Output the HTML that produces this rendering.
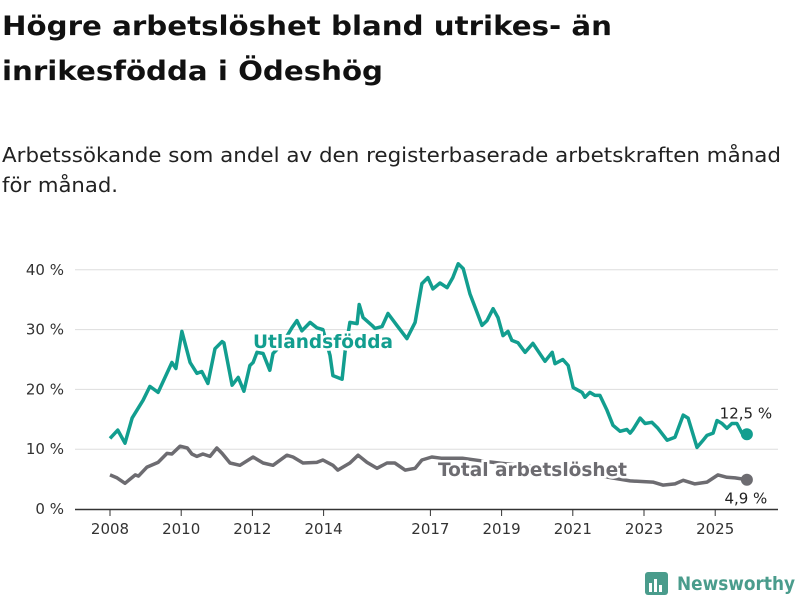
<!DOCTYPE html>
<html><head><meta charset="utf-8"><style>
body{margin:0;background:#fff;font-family:"DejaVu Sans","Liberation Sans",sans-serif;}
svg text{font-family:"DejaVu Sans","Liberation Sans",sans-serif;}
</style></head><body>
<svg width="800" height="600" viewBox="0 0 800 600">
<text x="2" y="35" font-size="27" font-weight="bold" fill="#111" textLength="610" lengthAdjust="spacingAndGlyphs">Högre arbetslöshet bland utrikes- än</text>
<text x="2" y="80" font-size="27" font-weight="bold" fill="#111" textLength="381" lengthAdjust="spacingAndGlyphs">inrikesfödda i Ödeshög</text>
<text x="2" y="162" font-size="20" fill="#222" textLength="779" lengthAdjust="spacingAndGlyphs">Arbetssökande som andel av den registerbaserade arbetskraften månad</text>
<text x="2" y="192" font-size="20" fill="#222" textLength="116" lengthAdjust="spacingAndGlyphs">för månad.</text>
<g id="grid"></g><g id="lines"></g><g id="xaxis"></g>
<g>
<rect x="645" y="572" width="23" height="23" rx="3" fill="#4a9c8c"/>
<rect x="649" y="583" width="3" height="9" fill="#fff"/><rect x="654" y="579" width="3" height="13" fill="#fff"/><rect x="659" y="585" width="3" height="7" fill="#fff"/>
<text x="677" y="590" font-size="19" font-weight="bold" fill="#4a9c8c" textLength="118" lengthAdjust="spacingAndGlyphs">Newsworthy</text>
</g>
</svg>
<script>
const yTicks=[0,10,20,30,40];
const xTickYears=[2008,2010,2012,2014,2017,2019,2021,2023,2025];
const utlT=[2008.0,2008.22,2008.42,2008.62,2008.93,2009.12,2009.35,2009.74,2009.85,2010.02,2010.25,2010.44,2010.58,2010.75,2010.95,2011.15,2011.2,2011.43,2011.6,2011.76,2011.93,2012.02,2012.13,2012.3,2012.49,2012.58,2012.83,2013.11,2013.25,2013.39,2013.62,2013.81,2013.98,2014.18,2014.26,2014.52,2014.6,2014.74,2014.94,2015.0,2015.11,2015.36,2015.44,2015.64,2015.81,2016.06,2016.34,2016.57,2016.76,2016.93,2017.07,2017.27,2017.47,2017.63,2017.78,2017.92,2018.11,2018.45,2018.59,2018.76,2018.9,2019.04,2019.18,2019.29,2019.46,2019.66,2019.88,2020.22,2020.42,2020.5,2020.72,2020.87,2021.01,2021.26,2021.34,2021.48,2021.62,2021.76,2021.96,2022.13,2022.33,2022.52,2022.61,2022.69,2022.89,2023.03,2023.22,2023.39,2023.65,2023.87,2024.1,2024.24,2024.49,2024.66,2024.77,2024.94,2025.05,2025.19,2025.33,2025.47,2025.61,2025.75,2025.89];
const utlV=[11.8,13.2,11,15.2,18.2,20.5,19.5,24.5,23.5,29.7,24.5,22.7,23,21,26.8,28,27.8,20.7,22,19.7,24,24.5,26.2,26,23.2,26,27.5,30.3,31.5,29.8,31.2,30.3,30,25.7,22.3,21.7,26.2,31.2,31,34.2,32,30.7,30.2,30.5,32.7,30.7,28.5,31.2,37.7,38.7,36.8,37.8,37,38.7,41,40.2,36,30.7,31.5,33.5,32,29,29.7,28.2,27.8,26.2,27.7,24.7,26.2,24.3,25,24,20.3,19.5,18.7,19.5,19,19,16.5,14,13,13.3,12.7,13.3,15.2,14.3,14.5,13.5,11.5,12,15.7,15.2,10.3,11.5,12.3,12.7,14.8,14.3,13.5,14.3,14.3,12.7,12.5];
const totT=[2008.0,2008.2,2008.42,2008.71,2008.8,2009.04,2009.35,2009.6,2009.74,2009.97,2010.17,2010.3,2010.44,2010.61,2010.81,2011.0,2011.15,2011.37,2011.65,2012.02,2012.3,2012.58,2012.97,2013.14,2013.42,2013.81,2013.98,2014.26,2014.4,2014.74,2014.97,2015.22,2015.5,2015.78,2016.0,2016.29,2016.57,2016.76,2017.04,2017.3,2017.9,2018.5,2019.2,2020.0,2021.0,2022.0,2022.61,2023.25,2023.53,2023.87,2024.1,2024.43,2024.77,2025.08,2025.33,2025.56,2025.89];
const totV=[5.7,5.2,4.3,5.7,5.5,7,7.8,9.3,9.2,10.5,10.2,9.2,8.8,9.2,8.8,10.2,9.3,7.7,7.3,8.7,7.7,7.3,9,8.7,7.7,7.8,8.2,7.3,6.5,7.7,9,7.8,6.8,7.7,7.7,6.5,6.8,8.2,8.7,8.5,8.5,8,7.5,7,6,5.3,4.7,4.5,4,4.2,4.8,4.2,4.5,5.7,5.3,5.2,4.9];
const NS='http://www.w3.org/2000/svg';
const X=t=>110+(t-2008)*35.6;
const Y=v=>509-v*5.98;
function mk(tag,attrs,parent){const e=document.createElementNS(NS,tag);for(const k in attrs)e.setAttribute(k,attrs[k]);document.getElementById(parent).appendChild(e);return e;}
yTicks.forEach(v=>{
 if(v>0){const l=mk('line',{x1:75,x2:778,y1:Y(v),y2:Y(v),stroke:'#ddd','stroke-width':1},'grid');
 
 }
 const t=mk('text',{x:64,y:Y(v)+5,'font-size':15,'text-anchor':'end',fill:'#333'},'grid');t.textContent=v+' %';
 
 
});
const ax=mk('line',{x1:75,x2:778,y1:509.5,y2:509.5,stroke:'#333','stroke-width':1.5},'xaxis');


xTickYears.forEach(y=>{
 mk('line',{x1:X(y),x2:X(y),y1:509,y2:516,stroke:'#333','stroke-width':1},'xaxis');
 const t=mk('text',{x:X(y),y:534,'font-size':15,'text-anchor':'middle',fill:'#333'},'xaxis');t.textContent=y;
 
 
});
function series(T,V,color,name){
 const d=T.map((t,i)=>(i?'L':'M')+X(t).toFixed(1)+','+Y(V[i]).toFixed(1)).join('');
 const p=mk('path',{d:d,fill:'none',stroke:color,'stroke-width':3.5,'stroke-linejoin':'round'},'lines');
 
 
 const n=T.length-1;
 const c=mk('circle',{cx:X(T[n]),cy:Y(V[n]),r:6,fill:color},'lines');
 
 
 return [X(T[n]),Y(V[n]),V[n]];
}
const eT=series(totT,totV,'#6d6c71','total');
const eU=series(utlT,utlV,'#129e8f','utlandsfodda');
let l1=mk('text',{x:253,y:348,'font-size':19,'font-weight':'bold',fill:'#129e8f',stroke:'#fff','stroke-width':5,'paint-order':'stroke',textLength:140,lengthAdjust:'spacingAndGlyphs'},'lines');l1.textContent='Utlandsfödda';


let l2=mk('text',{x:438,y:476,'font-size':19,'font-weight':'bold',fill:'#6d6c71',stroke:'#fff','stroke-width':5,'paint-order':'stroke',textLength:189,lengthAdjust:'spacingAndGlyphs'},'lines');l2.textContent='Total arbetslöshet';


let v1=mk('text',{x:eU[0]-1,y:eU[1]-16,'font-size':15,'text-anchor':'middle',fill:'#222'},'lines');v1.textContent=String(eU[2]).replace('.',',')+' %';


let v2=mk('text',{x:eT[0]-1,y:eT[1]+24,'font-size':15,'text-anchor':'middle',fill:'#222'},'lines');v2.textContent=String(eT[2]).replace('.',',')+' %';


</script>
</body></html>
